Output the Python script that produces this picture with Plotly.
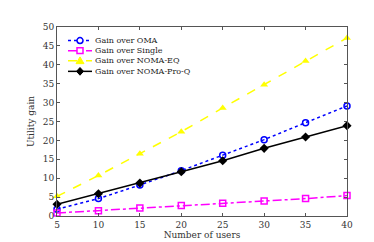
import plotly.graph_objects as go

users = [5, 10, 15, 20, 25, 30, 35, 40]
gain_oma = [1.8, 4.6, 8.2, 12.0, 16.1, 20.2, 24.7, 29.1]
gain_single = [0.8, 1.4, 2.1, 2.8, 3.4, 4.0, 4.6, 5.4]
gain_noma_eq = [5.2, 10.7, 16.5, 22.3, 28.6, 34.7, 41.0, 47.1]
gain_noma_proq = [3.1, 5.9, 8.7, 11.7, 14.6, 17.9, 20.9, 23.9]

names = ["Gain over OMA", "Gain over Single", "Gain over NOMA-EQ", "Gain over NOMA-Pro-Q"]
x_ticks = [5, 10, 15, 20, 25, 30, 35, 40]
y_ticks = [0, 5, 10, 15, 20, 25, 30, 35, 40, 45, 50]

font = "'DejaVu Serif', serif"
W, H = 374, 242
L, R, T, B = 49, 35, 19, 27
PW, PH = W - L - R, H - T - B

colors = ["#0000ff", "#ff00ff", "#ffff00", "#000000"]
dashes = ["dot", "dashdot", "dash", "solid"]

fig = go.Figure()
series = [gain_oma, gain_single, gain_noma_eq, gain_noma_proq]
markers = [dict(symbol="circle-open", size=6, color=colors[0], line=dict(width=1.5)),
           dict(symbol="square-open", size=6, color=colors[1], line=dict(width=1.5)),
           dict(symbol="triangle-up", size=7, color=colors[2]),
           dict(symbol="diamond", size=7, color=colors[3])]
for ys, nm, c, d, m in zip(series, names, colors, dashes, markers):
    fig.add_trace(go.Scatter(x=users, y=ys, name=nm, mode="lines+markers", cliponaxis=False,
                             line=dict(color=c, width=1.5, dash=d), marker=m, showlegend=False))

# manual compact legend (MATLAB style)
def px(x):
    return (x - L) / PW

def py(y):
    return (H - B - y) / PH

shapes = []
annotations = []
rows = [33, 43.5, 54, 65]
for i, (nm, c, d) in enumerate(zip(names, colors, dashes)):
    yy = rows[i]
    shapes.append(dict(type="line", xref="paper", yref="paper", x0=px(60), x1=px(84), y0=py(yy), y1=py(yy),
                       line=dict(color=c, width=1.5, dash=d)))
    cx = 72
    if i == 0:
        shapes.append(dict(type="circle", xref="paper", yref="paper", x0=px(cx - 3), x1=px(cx + 3),
                           y0=py(yy + 3), y1=py(yy - 3), line=dict(color=c, width=1.5), fillcolor="white"))
    elif i == 1:
        shapes.append(dict(type="rect", xref="paper", yref="paper", x0=px(cx - 3), x1=px(cx + 3),
                           y0=py(yy + 3), y1=py(yy - 3), line=dict(color=c, width=1.5), fillcolor="white"))
    elif i == 2:
        path = f"M {px(cx-4)},{py(yy+3)} L {px(cx+4)},{py(yy+3)} L {px(cx)},{py(yy-4)} Z"
        shapes.append(dict(type="path", xref="paper", yref="paper", path=path,
                           line=dict(color=c, width=1), fillcolor=c))
    else:
        path = f"M {px(cx-3.5)},{py(yy)} L {px(cx)},{py(yy-4)} L {px(cx+3.5)},{py(yy)} L {px(cx)},{py(yy+4)} Z"
        shapes.append(dict(type="path", xref="paper", yref="paper", path=path,
                           line=dict(color=c, width=1), fillcolor=c))
    annotations.append(dict(text=nm, xref="paper", yref="paper", x=px(85), y=py(yy), xanchor="left",
                            yanchor="middle", showarrow=False, font=dict(family=font, size=8, color="#222222")))

axis_common = dict(showgrid=False, zeroline=False, showline=True, linecolor="#555555", linewidth=1,
                   mirror="allticks", ticks="inside", ticklen=3, tickcolor="#555555",
                   tickfont=dict(family=font, size=9, color="#333333"))

fig.update_layout(
    width=W, height=H,
    margin=dict(l=L, r=R, t=T, b=B),
    paper_bgcolor="white", plot_bgcolor="white",
    font=dict(family=font, size=9, color="#333333"),
    showlegend=False,
    shapes=shapes, annotations=annotations,
    xaxis=dict(range=[5, 40], tickvals=x_ticks, title=dict(text="Number of users", standoff=2,
               font=dict(family=font, size=9)), **axis_common),
    yaxis=dict(range=[0, 50], tickvals=y_ticks, title=dict(text="Utility gain", standoff=6,
               font=dict(family=font, size=9)), **axis_common),
)

fig.write_html("out.html")
